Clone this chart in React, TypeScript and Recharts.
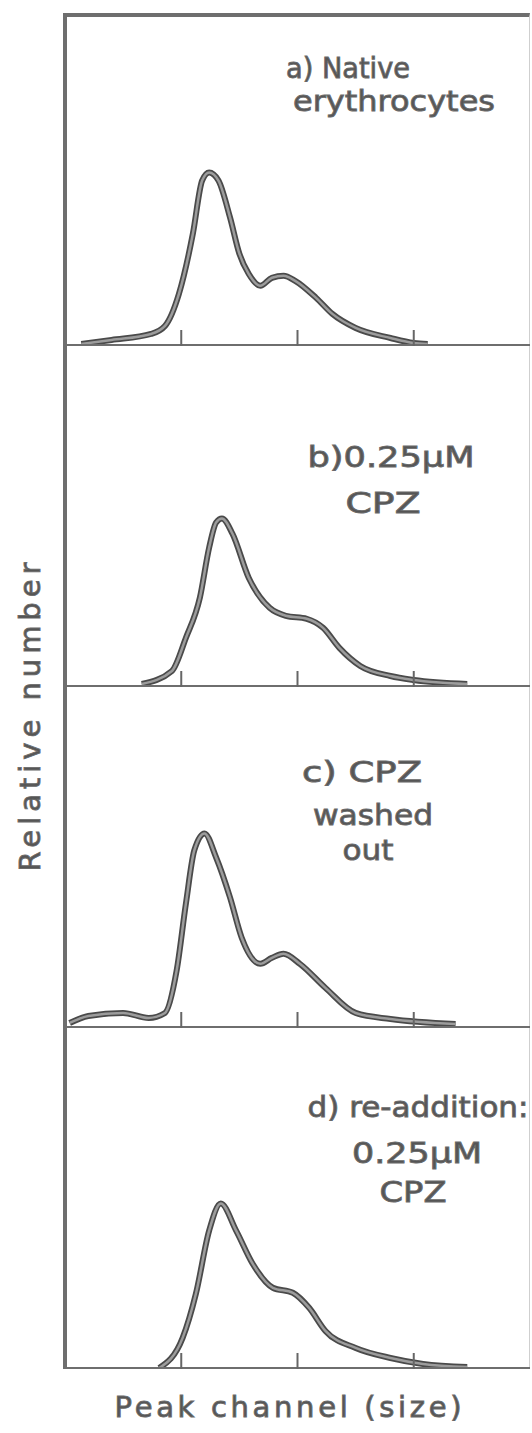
import React from 'react';
import { LineChart, Line, XAxis, YAxis } from 'recharts';

// peak channel (x) and relative number (y)
const channelA = [7, 20, 37, 43, 49, 55, 59, 62, 66, 71, 75, 79, 84, 89, 94, 99, 108, 115, 125, 140, 150, 156];
const countA = [2, 6, 12, 20, 52, 112, 165, 173, 165, 128, 92, 72, 60, 68, 70, 65, 48, 32, 18, 8, 3, 2];

const channelB = [33, 46, 52, 58, 62, 65, 67.5, 72, 79, 88, 95, 104, 111, 118, 127, 140, 150, 173];
const countB = [3, 16, 49, 89, 139, 164, 168, 153, 109, 79, 71, 68, 59, 39, 21, 11, 7, 3];

const channelC = [2, 10, 25, 36, 43, 48, 52, 55.6, 60, 65, 71, 76, 84, 89, 94, 101, 112, 125, 140, 168];
const countC = [5, 12, 15, 10, 15, 57, 124, 177, 194, 170, 130, 90, 64, 70, 74, 64, 40, 15, 9, 4];

const channelD = [40.5, 50.6, 56.3, 62, 67, 73.6, 80.7, 89.4, 98, 105, 112, 125, 140, 154, 173];
const countD = [1, 31, 75, 138, 165, 138, 105, 81, 76, 61, 38, 21, 11, 5, 2];

const xTicks = [50, 100, 150];

const toRows = (ch: number[], n: number[]) => ch.map((c, i) => ({ channel: c, count: n[i] }));

const panels = [
  { rows: toRows(channelA, countA), top: 14, height: 331 },
  { rows: toRows(channelB, countB), top: 345, height: 341 },
  { rows: toRows(channelC, countC), top: 686, height: 341 },
  { rows: toRows(channelD, countD), top: 1027, height: 341 },
];

// panel captions: [text, centre x, baseline y, width]
const captions: [string, number, number, number][] = [
  ['a) Native', 348, 78, 124],
  ['erythrocytes', 394, 111, 202],
  ['b)0.25\u00b5M', 391, 467, 167],
  ['CPZ', 383, 513, 75],
  ['c) CPZ', 362, 782, 120],
  ['washed', 373, 825, 120],
  ['out', 368, 860, 51],
  ['d) re-addition:', 418, 1117, 221],
  ['0.25\u00b5M', 417, 1163, 130],
  ['CPZ', 413, 1202, 67],
];

const ink = '#555';
const frame = '#6e6e6e';

const Panel = ({ rows, top, height }: any) => (
  <div style={{ position: 'absolute', left: 0, top }}>
    <LineChart width={532} height={height + 1} data={rows} margin={{ top: 0, right: 2, bottom: 0, left: 65 }}>
      <XAxis
        dataKey="channel"
        type="number"
        domain={[0, 200]}
        ticks={xTicks}
        mirror
        height={1}
        tickSize={16}
        tickFormatter={() => ''}
        axisLine={{ stroke: frame, strokeWidth: 4 }}
        tickLine={{ stroke: '#666', strokeWidth: 2 }}
        allowDataOverflow
      />
      <YAxis hide domain={[0, height]} allowDataOverflow />
      <Line type="monotone" dataKey="count" stroke="#4a4a4a" strokeWidth={6} dot={false} isAnimationActive={false} />
      <Line type="monotone" dataKey="count" stroke="#9c9c9c" strokeWidth={2.5} dot={false} isAnimationActive={false} />
    </LineChart>
  </div>
);

export default function App() {
  return (
    <div style={{ position: 'absolute', left: 0, top: 0, width: 532, height: 1433, background: '#fff' }}>
      {/* outer frame of the stacked panels */}
      <div
        style={{
          position: 'absolute',
          left: 63,
          top: 13,
          width: 467,
          height: 1356,
          borderLeft: `4px solid ${frame}`,
          borderTop: `4px solid ${frame}`,
          borderRight: '1px solid #cfcfcf',
          boxSizing: 'border-box',
        }}
      />
      {panels.map((p, i) => (
        <Panel key={i} {...p} />
      ))}
      <svg width={532} height={1433} style={{ position: 'absolute', left: 0, top: 0, pointerEvents: 'none' }}>
        <g fontFamily="DejaVu Sans" fontSize={29} fill={ink} stroke="#6a6a6a" strokeWidth={0.9}>
          {captions.map(([t, x, y, w], i) => (
            <text key={i} x={x} y={y} textAnchor="middle" textLength={w} lengthAdjust="spacingAndGlyphs">
              {t}
            </text>
          ))}
          <text x={288} y={1417} textAnchor="middle" textLength={347} lengthAdjust="spacing">
            Peak channel (size)
          </text>
          <text x={0} y={0} transform="translate(40 717) rotate(-90)" textAnchor="middle" textLength={309} lengthAdjust="spacing">
            Relative number
          </text>
        </g>
      </svg>
    </div>
  );
}
